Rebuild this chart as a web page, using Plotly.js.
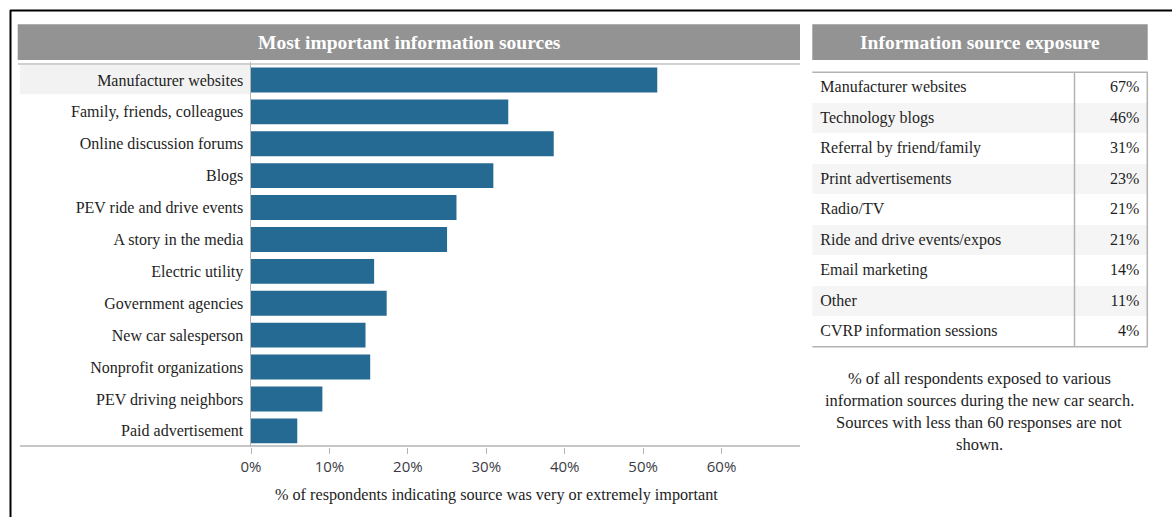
<!DOCTYPE html>
<html>
<head>
<meta charset="utf-8">
<script src="https://cdn.plot.ly/plotly-3.0.1.min.js"></script>
<style>html,body{margin:0;padding:0;background:#fff;}#chart{width:1172px;height:517px;}</style>
</head>
<body>
<div id="chart"></div>
<script>
// ---- data ----
const sources = [
  "Manufacturer websites",
  "Family, friends, colleagues",
  "Online discussion forums",
  "Blogs",
  "PEV ride and drive events",
  "A story in the media",
  "Electric utility",
  "Government agencies",
  "New car salesperson",
  "Nonprofit organizations",
  "PEV driving neighbors",
  "Paid advertisement"
];
const importantPct = [51.8, 32.8, 38.6, 30.9, 26.2, 25.0, 15.7, 17.3, 14.6, 15.2, 9.1, 5.9];

const xTickVals = [0, 10, 20, 30, 40, 50, 60];
const xTickText = ["0%", "10%", "20%", "30%", "40%", "50%", "60%"];

const exposureSources = [
  "Manufacturer websites",
  "Technology blogs",
  "Referral by friend/family",
  "Print advertisements",
  "Radio/TV",
  "Ride and drive events/expos",
  "Email marketing",
  "Other",
  "CVRP information sessions"
];
const exposurePct = [67, 46, 31, 23, 21, 21, 14, 11, 4];

const leftTitle = "Most important information sources";
const rightTitle = "Information source exposure";
const xTitle = "% of respondents indicating source was very or extremely important";
const noteLines = [
  "% of all respondents exposed to various",
  "information sources during the new car search.",
  "Sources with less than 60 responses are not",
  "shown."
];

// ---- helpers (pixel -> paper) ----
const W = 1172, H = 517;
const px = v => v / W;
const py = v => 1 - v / H;

const serif = "Liberation Serif, Times New Roman, serif";
const sans = "Open Sans, DejaVu Sans, sans-serif";

const rowFill = exposureSources.map((_, i) => i % 2 === 0 ? "#ffffff" : "#f5f5f5");
const headH = 12; // invisible spacer header of the table trace

const traces = [
  {
    type: "bar",
    orientation: "h",
    y: sources,
    x: importantPct,
    marker: { color: "#256a92", line: { width: 0 } },
    hoverinfo: "x+y",
    xaxis: "x",
    yaxis: "y"
  },
  {
    type: "table",
    domain: { x: [px(812.3), px(1147.5)], y: [py(350), py(72.3 - headH)] },
    columnwidth: [262, 73],
    header: {
      values: ["", ""],
      height: headH,
      fill: { color: "rgba(0,0,0,0)" },
      line: { color: "rgba(0,0,0,0)", width: 0 },
      font: { size: 1, color: "rgba(0,0,0,0)" }
    },
    cells: {
      values: [exposureSources, exposurePct.map(v => v + "%")],
      align: ["left", "right"],
      height: 30.5,
      fill: { color: [rowFill, rowFill] },
      line: { color: "rgba(0,0,0,0)", width: 0 },
      font: { family: serif, size: 16, color: "#1e1e1e" }
    }
  }
];

const grey = "#b3b3b3";
const shapes = [
  // outer black frame
  { type: "line", xref: "paper", yref: "paper", x0: px(10), x1: px(1180), y0: py(10.5), y1: py(10.5), line: { color: "#000", width: 2 } },
  { type: "line", xref: "paper", yref: "paper", x0: px(10.5), x1: px(10.5), y0: py(10), y1: py(530), line: { color: "#000", width: 2 } },
  // header bars
  { type: "rect", xref: "paper", yref: "paper", x0: px(17.7), x1: px(800), y0: py(60), y1: py(24.3), fillcolor: "#939393", line: { width: 0 }, layer: "below" },
  { type: "rect", xref: "paper", yref: "paper", x0: px(812.3), x1: px(1147.7), y0: py(60), y1: py(24.3), fillcolor: "#939393", line: { width: 0 }, layer: "below" },
  // line under left header
  { type: "line", xref: "paper", yref: "paper", x0: px(18), x1: px(800), y0: py(64), y1: py(64), line: { color: "#c4c4c4", width: 1.5 } },
  // first-row highlight band
  { type: "rect", xref: "paper", yref: "y", x0: px(20), x1: px(250), y0: -0.55, y1: 0.45, fillcolor: "#f2f2f2", line: { width: 0 }, layer: "below" },
  // baseline across the left panel
  { type: "line", xref: "paper", yref: "paper", x0: px(20), x1: px(800), y0: py(446), y1: py(446), line: { color: grey, width: 1.5 } },
  // table borders
  { type: "line", xref: "paper", yref: "paper", x0: px(812.3), x1: px(1147.7), y0: py(72.3), y1: py(72.3), line: { color: grey, width: 1.5 } },
  { type: "line", xref: "paper", yref: "paper", x0: px(812.3), x1: px(1147.7), y0: py(346.8), y1: py(346.8), line: { color: grey, width: 1.5 } },
  { type: "line", xref: "paper", yref: "paper", x0: px(1147.3), x1: px(1147.3), y0: py(72.3), y1: py(346.8), line: { color: grey, width: 1.5 } },
  { type: "line", xref: "paper", yref: "paper", x0: px(1074.5), x1: px(1074.5), y0: py(72.3), y1: py(346.8), line: { color: grey, width: 1.5 } }
];

const annotations = [
  { xref: "paper", yref: "paper", x: px(409.5), y: py(42), text: "<b>" + leftTitle + "</b>", showarrow: false, xanchor: "center", yanchor: "middle", font: { family: serif, size: 19.5, color: "#ffffff" } },
  { xref: "paper", yref: "paper", x: px(980), y: py(42), text: "<b>" + rightTitle + "</b>", showarrow: false, xanchor: "center", yanchor: "middle", font: { family: serif, size: 19.5, color: "#ffffff" } },
  { xref: "paper", yref: "paper", x: px(496), y: py(495), text: xTitle, showarrow: false, xanchor: "center", yanchor: "middle", font: { family: serif, size: 16.2, color: "#1e1e1e" } }
];
noteLines.forEach((t, i) => {
  annotations.push({ xref: "paper", yref: "paper", x: px(979), y: py(378 + i * 22.3), text: t, showarrow: false, xanchor: "center", yanchor: "middle", font: { family: serif, size: 16.5, color: "#1e1e1e" } });
});

const layout = {
  width: W, height: H,
  margin: { l: 0, r: 0, t: 0, b: 0, pad: 0 },
  paper_bgcolor: "#ffffff",
  plot_bgcolor: "rgba(0,0,0,0)",
  showlegend: false,
  bargap: 0.22,
  xaxis: {
    domain: [px(251), px(800)],
    range: [0, 70],
    tickvals: xTickVals,
    ticktext: xTickText,
    ticks: "outside", ticklen: 6, tickcolor: grey, tickwidth: 1,
    showgrid: false, zeroline: false, showline: false,
    tickfont: { family: sans, size: 15, color: "#3c3c46" },
    fixedrange: true
  },
  yaxis: {
    domain: [py(446.8), py(62.4)],
    type: "category",
    autorange: "reversed",
    showline: true, linecolor: grey, linewidth: 1.5,
    ticks: "", showgrid: false, zeroline: false,
    ticklabelstandoff: 3,
    tickfont: { family: serif, size: 16, color: "#1e1e1e" },
    fixedrange: true
  },
  shapes: shapes,
  annotations: annotations
};

Plotly.newPlot("chart", traces, layout, { displayModeBar: false, staticPlot: true });
</script>
</body>
</html>
